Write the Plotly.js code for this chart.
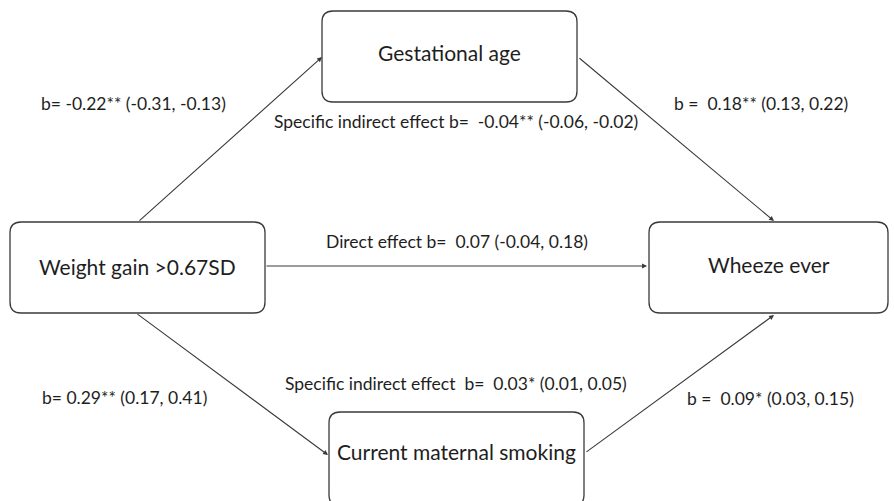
<!DOCTYPE html>
<html><head><meta charset="utf-8">
<script src="https://cdn.plot.ly/plotly-3.0.1.min.js"></script>
<style>html,body{margin:0;padding:0;background:#fff}#chart{width:894px;height:501px}</style>
</head><body><div id="chart"></div>
<script>
// Data: node names and path coefficient labels
const nodeNames = ["Weight gain >0.67SD", "Gestational age", "Current maternal smoking", "Wheeze ever"];
const pathLabels = [
  "b= -0.22** (-0.31, -0.13)",
  "b =  0.18** (0.13, 0.22)",
  "b= 0.29** (0.17, 0.41)",
  "b =  0.09* (0.03, 0.15)",
  "Direct effect b=  0.07 (-0.04, 0.18)",
  "Specific indirect effect b=  -0.04** (-0.06, -0.02)",
  "Specific indirect effect  b=  0.03* (0.01, 0.05)"
];
// edges: [from node, to node]
const edgeFrom = [0, 1, 0, 2, 0];
const edgeTo   = [1, 3, 2, 3, 3];

// Layout geometry (pixel coords, y down)
const boxes = [
  {x0: 10,  x1: 265, y0: 222, y1: 313, ty: 266},
  {x0: 322, x1: 577, y0: 11,  y1: 102, ty: 52},
  {x0: 329, x1: 584, y0: 412, y1: 506, ty: 451},
  {x0: 649, x1: 888, y0: 222, y1: 313, ty: 264}
];
const edgeStart = [[138,222],[578,57],[136,313],[585,453],[265,266]];
const edgeEnd   = [[322,57],[774,221],[328,455],[774,315],[647,266]];
const labelPos = [[133,103],[761,103],[124,397],[770,398],[457,241],[456,121],[456,383]];

const col = "#3a3a3a";
const font = "Lato, Open Sans, DejaVu Sans, sans-serif";

function rrect(b, r) {
  return `M ${b.x0+r},${b.y0} L ${b.x1-r},${b.y0} Q ${b.x1},${b.y0} ${b.x1},${b.y0+r} ` +
         `L ${b.x1},${b.y1-r} Q ${b.x1},${b.y1} ${b.x1-r},${b.y1} L ${b.x0+r},${b.y1} ` +
         `Q ${b.x0},${b.y1} ${b.x0},${b.y1-r} L ${b.x0},${b.y0+r} Q ${b.x0},${b.y0} ${b.x0+r},${b.y0} Z`;
}

const shapes = boxes.map(b => ({
  type: "path", xref: "x", yref: "y", path: rrect(b, 11),
  line: {color: col, width: 1.3}, fillcolor: "rgba(0,0,0,0)"
}));

const annotations = [];
nodeNames.forEach((n, i) => {
  annotations.push({
    x: (boxes[i].x0 + boxes[i].x1) / 2, y: boxes[i].ty, xref: "x", yref: "y",
    text: n, showarrow: false, font: {family: font, size: 21, color: "#1e1e1e"},
    xanchor: "center", yanchor: "middle"
  });
});
edgeFrom.forEach((f, i) => {
  annotations.push({
    x: edgeEnd[i][0], y: edgeEnd[i][1], ax: edgeStart[i][0], ay: edgeStart[i][1],
    xref: "x", yref: "y", axref: "x", ayref: "y", text: "", showarrow: true,
    arrowhead: 2, arrowsize: 0.9, arrowwidth: 1.1, arrowcolor: col, standoff: 0, startstandoff: 0
  });
});
pathLabels.forEach((t, i) => {
  annotations.push({
    x: labelPos[i][0], y: labelPos[i][1], xref: "x", yref: "y", text: t, showarrow: false,
    font: {family: font, size: 17.5, color: "#1e1e1e"}, xanchor: "center", yanchor: "middle"
  });
});

Plotly.newPlot("chart", [{x: [], y: [], type: "scatter", mode: "markers", showlegend: false}], {
  width: 894, height: 501,
  margin: {l: 0, r: 0, t: 0, b: 0},
  paper_bgcolor: "#fff", plot_bgcolor: "#fff",
  xaxis: {range: [0, 894], visible: false, fixedrange: true},
  yaxis: {range: [501, 0], visible: false, fixedrange: true},
  shapes: shapes, annotations: annotations, showlegend: false
}, {staticPlot: true, displayModeBar: false});
</script>
</body></html>
